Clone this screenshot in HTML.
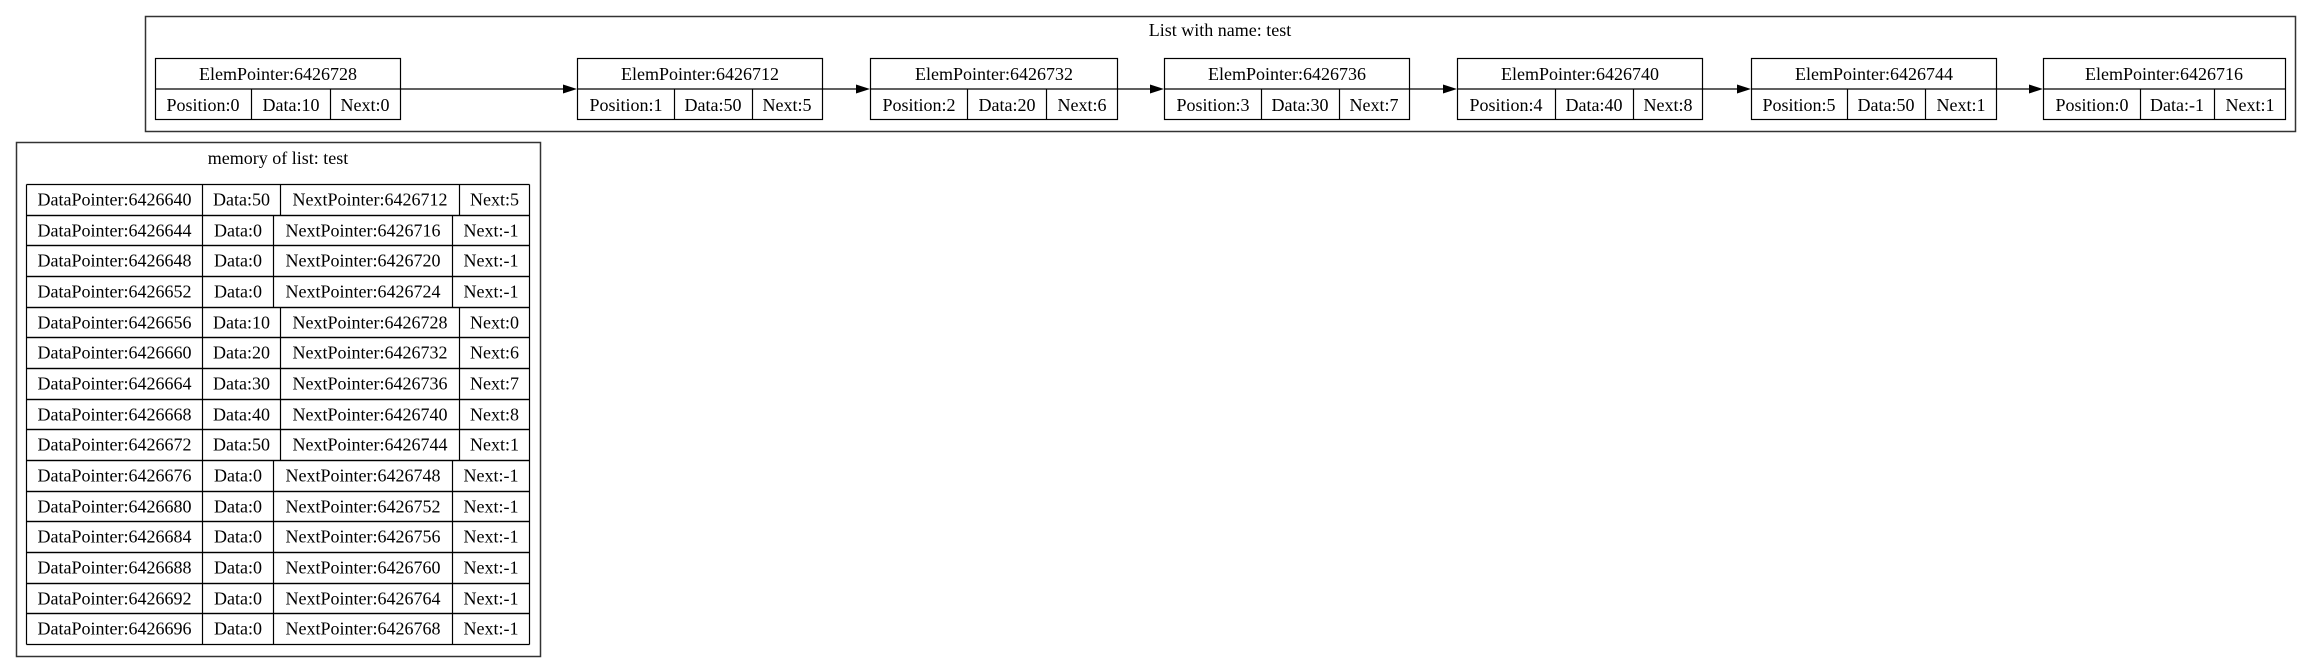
<!DOCTYPE html>
<html><head><meta charset="utf-8"><style>
html,body{margin:0;padding:0;background:#fff;}
svg{display:block;}
text{font-family:"Liberation Serif",serif;font-size:18px;fill:#000;}
</style></head><body>
<svg width="2312" height="672" viewBox="0 0 2312 672" xmlns="http://www.w3.org/2000/svg">
<rect x="145.5" y="16.5" width="2150" height="115" fill="none" stroke="#333" stroke-width="1.5"/>
<text x="1220" y="36" text-anchor="middle">List with name: test</text>
<g stroke="#000" stroke-width="1.2" fill="none">
<rect x="155.5" y="58.5" width="245" height="61"/><line x1="155.5" y1="89" x2="400.5" y2="89"/><line x1="251.5" y1="89" x2="251.5" y2="119.5"/><line x1="330.5" y1="89" x2="330.5" y2="119.5"/>
<rect x="577.5" y="58.5" width="245" height="61"/><line x1="577.5" y1="89" x2="822.5" y2="89"/><line x1="674.5" y1="89" x2="674.5" y2="119.5"/><line x1="752.5" y1="89" x2="752.5" y2="119.5"/>
<rect x="870.5" y="58.5" width="247" height="61"/><line x1="870.5" y1="89" x2="1117.5" y2="89"/><line x1="967.5" y1="89" x2="967.5" y2="119.5"/><line x1="1046.5" y1="89" x2="1046.5" y2="119.5"/>
<rect x="1164.5" y="58.5" width="245" height="61"/><line x1="1164.5" y1="89" x2="1409.5" y2="89"/><line x1="1261.5" y1="89" x2="1261.5" y2="119.5"/><line x1="1339.5" y1="89" x2="1339.5" y2="119.5"/>
<rect x="1457.5" y="58.5" width="245" height="61"/><line x1="1457.5" y1="89" x2="1702.5" y2="89"/><line x1="1555.5" y1="89" x2="1555.5" y2="119.5"/><line x1="1633.5" y1="89" x2="1633.5" y2="119.5"/>
<rect x="1751.5" y="58.5" width="245" height="61"/><line x1="1751.5" y1="89" x2="1996.5" y2="89"/><line x1="1847.5" y1="89" x2="1847.5" y2="119.5"/><line x1="1925.5" y1="89" x2="1925.5" y2="119.5"/>
<rect x="2043.5" y="58.5" width="242" height="61"/><line x1="2043.5" y1="89" x2="2285.5" y2="89"/><line x1="2140.5" y1="89" x2="2140.5" y2="119.5"/><line x1="2214.5" y1="89" x2="2214.5" y2="119.5"/>
<line x1="400" y1="89" x2="564" y2="89"/><line x1="822" y1="89" x2="857" y2="89"/><line x1="1117" y1="89" x2="1151" y2="89"/><line x1="1409" y1="89" x2="1444" y2="89"/><line x1="1702" y1="89" x2="1738" y2="89"/><line x1="1996" y1="89" x2="2030" y2="89"/>
</g>
<g fill="#000">
<polygon points="563,84.5 577,89 563,93.5"/><polygon points="856,84.5 870,89 856,93.5"/><polygon points="1150,84.5 1164,89 1150,93.5"/><polygon points="1443,84.5 1457,89 1443,93.5"/><polygon points="1737,84.5 1751,89 1737,93.5"/><polygon points="2029,84.5 2043,89 2029,93.5"/>
</g>
<g text-anchor="middle">
<text x="278" y="80">ElemPointer:6426728</text><text x="203" y="111">Position:0</text><text x="291" y="111">Data:10</text><text x="365" y="111">Next:0</text>
<text x="700" y="80">ElemPointer:6426712</text><text x="626" y="111">Position:1</text><text x="713" y="111">Data:50</text><text x="787" y="111">Next:5</text>
<text x="994" y="80">ElemPointer:6426732</text><text x="919" y="111">Position:2</text><text x="1007" y="111">Data:20</text><text x="1082" y="111">Next:6</text>
<text x="1287" y="80">ElemPointer:6426736</text><text x="1213" y="111">Position:3</text><text x="1300" y="111">Data:30</text><text x="1374" y="111">Next:7</text>
<text x="1580" y="80">ElemPointer:6426740</text><text x="1506" y="111">Position:4</text><text x="1594" y="111">Data:40</text><text x="1668" y="111">Next:8</text>
<text x="1874" y="80">ElemPointer:6426744</text><text x="1799" y="111">Position:5</text><text x="1886" y="111">Data:50</text><text x="1961" y="111">Next:1</text>
<text x="2164" y="80">ElemPointer:6426716</text><text x="2092" y="111">Position:0</text><text x="2177" y="111">Data:-1</text><text x="2250" y="111">Next:1</text>
</g>
<rect x="16.5" y="142.5" width="524" height="514" fill="none" stroke="#333" stroke-width="1.5"/>
<text x="278" y="164" text-anchor="middle">memory of list: test</text>
<g id="tbl" stroke="#000" stroke-width="1.2" fill="none"></g>
<g id="tt" text-anchor="middle"></g>
</svg>
<script>
(function(){
var rows=[["6426640","50","6426712","5"],["6426644","0","6426716","-1"],["6426648","0","6426720","-1"],["6426652","0","6426724","-1"],["6426656","10","6426728","0"],["6426660","20","6426732","6"],["6426664","30","6426736","7"],["6426668","40","6426740","8"],["6426672","50","6426744","1"],["6426676","0","6426748","-1"],["6426680","0","6426752","-1"],["6426684","0","6426756","-1"],["6426688","0","6426760","-1"],["6426692","0","6426764","-1"],["6426696","0","6426768","-1"]];
var ns="http://www.w3.org/2000/svg",g=document.getElementById("tbl"),t=document.getElementById("tt");
var top=184,h=30.67,L=26.5,R=529.5;
function ln(a,b,c,d){var e=document.createElementNS(ns,"line");e.setAttribute("x1",a);e.setAttribute("y1",b);e.setAttribute("x2",c);e.setAttribute("y2",d);g.appendChild(e);}
function tx(x,y,s){var e=document.createElementNS(ns,"text");e.setAttribute("x",x);e.setAttribute("y",y);e.textContent=s;t.appendChild(e);}
for(var i=0;i<rows.length;i++){var r=rows[i],y0=Math.round(top+i*h)+0.5,y1=Math.round(top+(i+1)*h)+0.5;
var two=r[1].length>1;var c1=202.5,c2=two?280.5:273.5,c3=two?459.5:452.5;
ln(L,y0,R,y0);ln(L,y1,R,y1);ln(L,y0,L,y1);ln(R,y0,R,y1);ln(c1,y0,c1,y1);ln(c2,y0,c2,y1);ln(c3,y0,c3,y1);
var ty=y0+21;tx((L+c1)/2,ty,"DataPointer:"+r[0]);tx((c1+c2)/2,ty,"Data:"+r[1]);tx((c2+c3)/2,ty,"NextPointer:"+r[2]);tx((c3+R)/2,ty,"Next:"+r[3]);}
})();
</script>
</body></html>
